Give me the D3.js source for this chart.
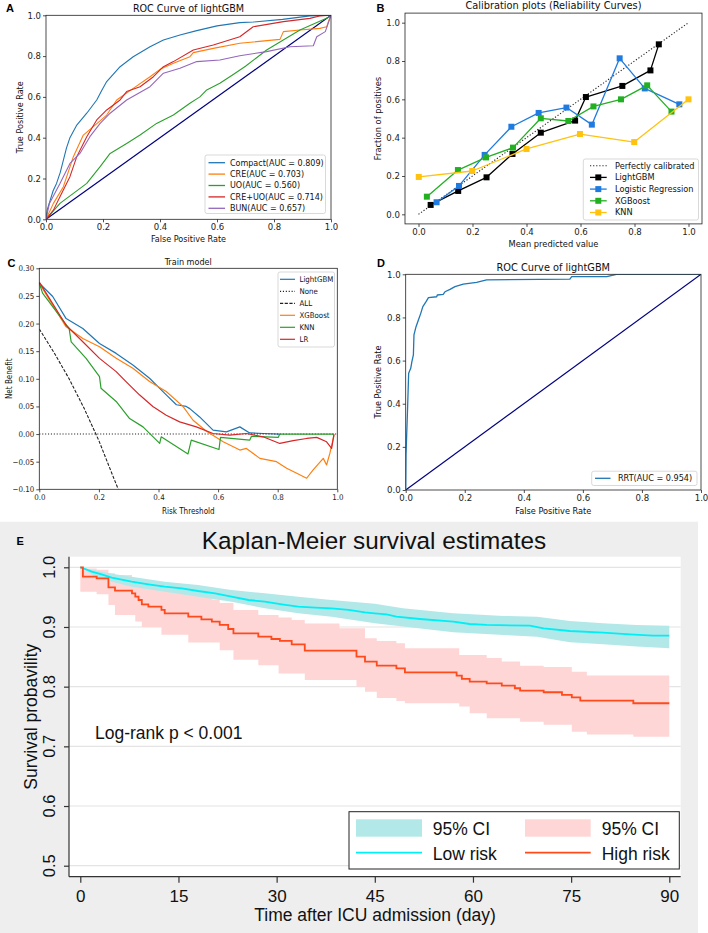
<!DOCTYPE html>
<html><head><meta charset="utf-8">
<script src="https://cdn.jsdelivr.net/npm/d3@7"></script>
<style>body{margin:0;background:#fff;} svg{display:block;}</style>
</head><body>
<svg id="fig" width="708" height="933"></svg>
<script>
// ---------- Panel A: ROC curves (fpr, tpr) ----------
const rocCompact = [[0,0],[0.005,0.05],[0.014,0.09],[0.025,0.14],[0.037,0.176],[0.05,0.23],[0.061,0.29],[0.072,0.35],[0.084,0.40],[0.108,0.462],[0.143,0.52],[0.178,0.585],[0.195,0.63],[0.213,0.675],[0.26,0.748],[0.306,0.797],[0.365,0.846],[0.412,0.879],[0.47,0.903],[0.529,0.925],[0.6,0.948],[0.68,0.964],[0.727,0.967],[0.83,0.98],[0.926,0.997],[1,1]];
const rocCre = [[0,0],[0.026,0.078],[0.061,0.16],[0.096,0.307],[0.131,0.413],[0.166,0.454],[0.213,0.511],[0.248,0.585],[0.306,0.642],[0.365,0.699],[0.40,0.735],[0.447,0.765],[0.505,0.797],[0.517,0.817],[0.587,0.838],[0.68,0.863],[0.821,0.882],[0.833,0.92],[0.891,0.928],[0.961,0.936],[0.985,0.944],[0.996,0.99],[1,1]];
const rocUo = [[0,0],[0.049,0.078],[0.096,0.127],[0.143,0.176],[0.19,0.258],[0.225,0.323],[0.283,0.372],[0.33,0.413],[0.388,0.47],[0.447,0.511],[0.505,0.569],[0.54,0.60],[0.564,0.634],[0.61,0.667],[0.657,0.71],[0.70,0.75],[0.774,0.83],[0.891,0.928],[0.996,0.993],[1,1]];
const rocCreUo = [[0,0],[0.026,0.045],[0.049,0.111],[0.084,0.209],[0.108,0.307],[0.143,0.405],[0.178,0.487],[0.213,0.536],[0.26,0.585],[0.283,0.626],[0.33,0.65],[0.377,0.699],[0.412,0.748],[0.447,0.773],[0.517,0.83],[0.587,0.854],[0.68,0.895],[0.727,0.944],[0.833,0.969],[0.926,0.985],[0.96,0.997],[1,1]];
const rocBun = [[0,0],[0.012,0.078],[0.049,0.176],[0.084,0.274],[0.119,0.323],[0.154,0.405],[0.19,0.47],[0.225,0.52],[0.283,0.585],[0.365,0.65],[0.412,0.716],[0.47,0.74],[0.529,0.773],[0.61,0.781],[0.68,0.802],[0.774,0.822],[0.856,0.846],[0.938,0.851],[0.95,0.895],[0.98,0.92],[1,1]];
const rocLabelsA = ["Compact(AUC = 0.809)","CRE(AUC = 0.703)","UO(AUC = 0.560)","CRE+UO(AUC = 0.714)","BUN(AUC = 0.657)"];
const unitTicks = [0,0.2,0.4,0.6,0.8,1.0];

// ---------- Panel B: calibration (mean predicted, fraction positives) ----------
const calLgbm = [[0.045,0.049],[0.147,0.122],[0.252,0.193],[0.348,0.315],[0.453,0.426],[0.58,0.489],[0.62,0.612],[0.755,0.67],[0.859,0.751],[0.89,0.887]];
const calLr = [[0.067,0.063],[0.15,0.148],[0.245,0.31],[0.344,0.457],[0.445,0.529],[0.548,0.557],[0.642,0.468],[0.745,0.814],[0.838,0.657],[0.966,0.574]];
const calXgb = [[0.031,0.092],[0.146,0.231],[0.25,0.297],[0.35,0.348],[0.453,0.501],[0.555,0.487],[0.648,0.563],[0.75,0.6],[0.847,0.673],[0.937,0.536]];
const calKnn = [[0.001,0.195],[0.199,0.226],[0.4,0.341],[0.598,0.419],[0.799,0.377],[1.0,0.6]];
const calPerfect = [[0,0],[1,1]];
const calLabels = ["Perfectly calibrated","LightGBM","Logistic Regression","XGBoost","KNN"];

// ---------- Panel C: decision curves (threshold, net benefit) ----------
const dcaLgbm = [[0,0.273],[0.045,0.249],[0.09,0.209],[0.146,0.191],[0.202,0.164],[0.258,0.146],[0.314,0.125],[0.37,0.101],[0.426,0.071],[0.46,0.053],[0.493,0.05],[0.505,0.046],[0.538,0.031],[0.583,0.007],[0.628,0.004],[0.673,0.013],[0.706,0.002],[0.751,0.001],[0.807,0]];
const dcaNone = [[0,0],[1,0]];
const dcaAll = [[0,0.19],[0.05,0.147],[0.1,0.10],[0.15,0.047],[0.2,-0.012],[0.25,-0.08],[0.265,-0.10]];
const dcaXgb = [[0,0.273],[0.09,0.194],[0.146,0.173],[0.202,0.158],[0.258,0.137],[0.314,0.119],[0.37,0.095],[0.426,0.077],[0.482,0.05],[0.516,0.025],[0.561,0.005],[0.617,-0.014],[0.673,-0.029],[0.695,-0.026],[0.74,-0.044],[0.796,-0.05],[0.83,-0.062],[0.864,-0.071],[0.897,-0.08],[0.919,-0.065],[0.953,-0.044],[0.964,-0.056],[0.975,-0.035],[0.989,-0.002]];
const dcaKnn = [[0,0.273],[0.011,0.255],[0.1,0.191],[0.107,0.167],[0.157,0.137],[0.202,0.104],[0.207,0.083],[0.258,0.059],[0.303,0.028],[0.348,0.013],[0.404,-0.017],[0.409,-0.005],[0.499,-0.036],[0.51,-0.011],[0.603,-0.028],[0.608,-0.006],[0.706,-0.011],[0.712,-0.004],[0.802,-0.006],[0.807,0],[0.989,0]];
const dcaLr = [[0,0.275],[0.09,0.197],[0.146,0.167],[0.202,0.137],[0.258,0.113],[0.291,0.095],[0.336,0.071],[0.381,0.05],[0.426,0.034],[0.471,0.022],[0.527,0.013],[0.583,0.001],[0.639,-0.002],[0.695,0.001],[0.751,-0.005],[0.807,-0.017],[0.852,-0.012],[0.897,-0.008],[0.931,-0.006],[0.964,-0.014],[0.981,-0.026],[0.989,0]];
const dcaLabels = ["LightGBM","None","ALL","XGBoost","KNN","LR"];
const dcaYTicks = [-0.10,-0.05,0,0.05,0.10,0.15,0.20,0.25,0.30];

// ---------- Panel D: ROC RRT ----------
const rocRrt = [[0,0],[0.001,0.162],[0.006,0.363],[0.01,0.541],[0.017,0.564],[0.021,0.595],[0.026,0.626],[0.028,0.719],[0.035,0.757],[0.043,0.788],[0.051,0.819],[0.058,0.85],[0.069,0.873],[0.077,0.892],[0.105,0.896],[0.107,0.904],[0.127,0.907],[0.133,0.919],[0.15,0.93],[0.167,0.943],[0.195,0.954],[0.24,0.963],[0.274,0.974],[0.556,0.978],[0.562,0.989],[0.681,0.989],[0.714,1.0],[1,1]];
const rocRrtLabel = "RRT(AUC = 0.954)";

// ---------- Panel E: Kaplan-Meier ----------
const kmHighT = [0,0.4,2.5,4.3,5.3,7.9,8.4,8.9,9.4,10.4,12.4,12.9,16.5,18.5,20.1,21.3,22.6,23.4,27.2,29.2,30.5,32.3,34.3,42.2,43.5,45.3,48.3,49.6,57.5,58.3,59.5,62.1,64.4,66.4,67.2,70.8,73.6,75.1,76.4,84.5,90];
const kmHighS = [1,0.9843,0.9815,0.9664,0.9609,0.9564,0.9508,0.9452,0.938,0.934,0.9285,0.9229,0.9173,0.9128,0.9089,0.9034,0.8966,0.8894,0.8838,0.8799,0.8766,0.871,0.8604,0.8503,0.8419,0.8352,0.8308,0.8241,0.8185,0.8129,0.8084,0.8056,0.8017,0.7973,0.7933,0.7906,0.7861,0.7822,0.7766,0.7722,0.7722];
const kmHighCiT = [0,0.4,2.5,4.3,5.3,7.9,8.4,8.9,9.4,12.4,12.9,16.5,18.5,20.1,21.3,23.4,27.2,30.3,32.3,34.3,39.6,42.2,43.5,45.3,48.3,49.6,57.9,59.5,62.1,64.4,67.2,70.8,75.1,77.4,84.5,90];
const kmHighCiHi = [1,0.998,0.996,0.99,0.987,0.982,0.98,0.978,0.975,0.97,0.967,0.958,0.952,0.946,0.94,0.9285,0.92,0.916,0.9117,0.906,0.8978,0.8978,0.881,0.8766,0.8727,0.8643,0.853,0.853,0.848,0.842,0.8352,0.833,0.8251,0.8185,0.8185,0.8185];
const kmHighCiLo = [0.959,0.959,0.955,0.937,0.92,0.92,0.909,0.909,0.90,0.887,0.887,0.874,0.874,0.874,0.861,0.845,0.836,0.822,0.822,0.811,0.811,0.80,0.7916,0.781,0.776,0.772,0.7666,0.7555,0.747,0.747,0.7414,0.736,0.7246,0.72,0.716,0.716];
const kmLowT = [0,0.72,1.74,3.26,4.79,7.85,10.4,12.9,15.5,18.0,20.6,23.1,25.7,28.2,30.8,33.3,35.9,38.4,41.0,43.5,45.0,46.8,48.3,51.9,57.0,59.5,62.1,68.7,70.8,74.8,79.9,84.0,87.5,90];
const kmLowS = [1,0.9972,0.9927,0.9882,0.9826,0.9759,0.9715,0.9676,0.9648,0.9603,0.9564,0.9508,0.9452,0.9424,0.938,0.934,0.9324,0.9313,0.9285,0.9246,0.9229,0.9212,0.9173,0.9134,0.9089,0.905,0.9034,0.9022,0.8978,0.8933,0.8905,0.8877,0.8855,0.8855];
const kmLowCiT = [0,2.7,5.3,7.85,12.9,18,23.1,28.2,33.3,38.4,45,49.3,57,64.7,69.8,74.8,79.9,85,90];
const kmLowCiHi = [1,0.9938,0.9882,0.9843,0.9759,0.9704,0.962,0.9564,0.9508,0.9452,0.939,0.9313,0.9229,0.9184,0.9173,0.91,0.9062,0.9034,0.9022];
const kmLowCiLo = [1,0.9815,0.9746,0.9676,0.9592,0.9508,0.9424,0.9313,0.9229,0.9173,0.9062,0.9006,0.8911,0.8866,0.8838,0.8743,0.871,0.8671,0.8643];
const kmXTicks = [0,15,30,45,60,75,90];
const kmYTicks = [0.5,0.6,0.7,0.8,0.9,1.0];

// ---------- drawing ----------
const svg = d3.select("#fig");
const FM = "'DejaVu Sans', sans-serif";
const FC = "'DejaVu Sans Condensed', 'DejaVu Sans', sans-serif";
const FE = "'Liberation Sans', Arial, sans-serif";
let clipN = 0;

function panel(cfg) {
  const g = svg.append("g");
  const x = d3.scaleLinear().domain(cfg.xDom).range([cfg.l, cfg.r]);
  const y = d3.scaleLinear().domain(cfg.yDom).range([cfg.b, cfg.t]);
  const xa = g.append("g").attr("transform", `translate(0,${cfg.b})`)
    .call(d3.axisBottom(x).tickValues(cfg.xTicks).tickFormat(cfg.fmtX).tickSize(3).tickPadding(2));
  const ya = g.append("g").attr("transform", `translate(${cfg.l},0)`)
    .call(d3.axisLeft(y).tickValues(cfg.yTicks).tickFormat(cfg.fmtY).tickSize(3).tickPadding(2));
  [xa, ya].forEach(a => {
    a.select(".domain").remove();
    a.selectAll("line").attr("stroke", "#222").attr("stroke-width", 0.8);
    a.selectAll("text").attr("font-family", cfg.font).attr("font-size", cfg.fs).attr("fill", "#222")
      .attr("font-stretch", cfg.stretch || "normal");
  });
  const id = "clip" + (clipN++);
  svg.append("clipPath").attr("id", id).append("rect")
    .attr("x", cfg.l).attr("y", cfg.t).attr("width", cfg.r - cfg.l).attr("height", cfg.b - cfg.t);
  const plot = g.append("g").attr("clip-path", `url(#${id})`);
  return {g, x, y, plot, frame: () => g.append("rect").attr("x", cfg.l).attr("y", cfg.t)
      .attr("width", cfg.r - cfg.l).attr("height", cfg.b - cfg.t)
      .attr("fill", "none").attr("stroke", "#222").attr("stroke-width", 0.8)};
}
function txt(x, y, s, o = {}) {
  const t = svg.append("text").attr("x", x).attr("y", y).text(s)
    .attr("font-family", o.font || FM).attr("font-size", o.size || 8)
    .attr("text-anchor", o.anchor || "start").attr("fill", o.fill || "#111");
  if (o.bold) t.attr("font-weight", "bold");
  if (o.stretch) t.attr("font-stretch", o.stretch);
  if (o.rot) t.attr("transform", `rotate(${o.rot},${x},${y})`);
  return t;
}
function drawLine(P, data, color, w, dash) {
  const ln = d3.line().x(d => P.x(d[0])).y(d => P.y(d[1]));
  const p = P.plot.append("path").datum(data).attr("d", ln).attr("fill", "none")
    .attr("stroke", color).attr("stroke-width", w).attr("stroke-linejoin", "round");
  if (dash) p.attr("stroke-dasharray", dash);
  return p;
}
function legendBox(x0, y0, x1, y1) {
  svg.append("rect").attr("x", x0).attr("y", y0).attr("width", x1 - x0).attr("height", y1 - y0)
    .attr("rx", 2).attr("fill", "#fff").attr("fill-opacity", 0.85).attr("stroke", "#cfcfcf").attr("stroke-width", 0.8);
}
const f1 = d3.format(".1f"), f2 = d3.format(".2f");

// ===== A =====
const A = panel({l:46, r:331, t:15.3, b:219.3, xDom:[0,1], yDom:[0,1], xTicks:unitTicks, yTicks:unitTicks, fmtX:f1, fmtY:f1, font:FM, fs:8.5});
drawLine(A, [[0,0],[1,1]], "#000080", 1.2);
const colA = ["#1f77b4","#ff7f0e","#2ca02c","#d62728","#9467bd"];
[rocCompact, rocCre, rocUo, rocCreUo, rocBun].forEach((d, i) => drawLine(A, d, colA[i], 1.1));
A.frame();
txt(188.5, 11.5, "ROC Curve of lightGBM", {size:9.6, anchor:"middle"});
txt(6, 12, "A", {size:11, bold:true, font:"'Liberation Sans', Arial, sans-serif", fill:"#000"});
txt(188.5, 242.3, "False Positive Rate", {size:8.1, anchor:"middle"});
txt(23, 117.3, "True Positive Rate", {size:8.1, anchor:"middle", rot:-90});
legendBox(205, 155, 325.5, 213.5);
rocLabelsA.forEach((s, i) => {
  const yy = 162.7 + i * 11.4;
  svg.append("line").attr("x1", 208.5).attr("x2", 225).attr("y1", yy).attr("y2", yy).attr("stroke", colA[i]).attr("stroke-width", 1.3);
  txt(230, yy + 2.9, s, {size:8});
});

// ===== B =====
const B = panel({l:405, r:702, t:13.1, b:223.9, xDom:[-0.05,1.05], yDom:[-0.05,1.05], xTicks:unitTicks, yTicks:unitTicks, fmtX:f1, fmtY:f1, font:FM, fs:8.6});
drawLine(B, calPerfect, "#222", 1.1, "1.2,1.9");
const colB = ["#000000","#1f7be0","#22b022","#ffc20e"];
[calLgbm, calLr, calXgb, calKnn].forEach((d, i) => {
  drawLine(B, d, colB[i], 1.3);
  B.plot.selectAll(null).data(d).enter().append("rect")
    .attr("x", p => B.x(p[0]) - 3).attr("y", p => B.y(p[1]) - 3).attr("width", 6).attr("height", 6)
    .attr("fill", colB[i]);
});
B.frame();
txt(553.5, 9.3, "Calibration plots  (Reliability Curves)", {size:9.8, anchor:"middle"});
txt(376.5, 11.8, "B", {size:11, bold:true, font:"'Liberation Sans', Arial, sans-serif", fill:"#000"});
txt(553.5, 247.2, "Mean predicted value", {size:8.3, anchor:"middle"});
txt(381, 118.5, "Fraction of positives", {size:8.3, anchor:"middle", rot:-90});
legendBox(583.3, 159, 698.5, 220);
calLabels.forEach((s, i) => {
  const yy = 165.7 + i * 11.7;
  if (i === 0) {
    svg.append("line").attr("x1", 590).attr("x2", 606.7).attr("y1", yy).attr("y2", yy).attr("stroke", "#222").attr("stroke-width", 1.1).attr("stroke-dasharray", "1.2,1.9");
  } else {
    svg.append("line").attr("x1", 590).attr("x2", 606.7).attr("y1", yy).attr("y2", yy).attr("stroke", colB[i-1]).attr("stroke-width", 1.3);
    svg.append("rect").attr("x", 598.3 - 3).attr("y", yy - 3).attr("width", 6).attr("height", 6).attr("fill", colB[i-1]);
  }
  txt(615, yy + 2.9, s, {size:8.2});
});

// ===== C =====
const C = panel({l:39.3, r:337.3, t:268.3, b:489.3, xDom:[0,1], yDom:[-0.10,0.30], xTicks:unitTicks, yTicks:dcaYTicks, fmtX:f1, fmtY:f2, font:FC, fs:7.9, stretch:"condensed"});
const colC = ["#1f77b4","#222","#222","#ff7f0e","#2ca02c","#d62728"];
const dashC = [null,"1.1,1.8","3.2,1.5",null,null,null];
[dcaLgbm, dcaNone, dcaAll, dcaXgb, dcaKnn, dcaLr].forEach((d, i) => drawLine(C, d, colC[i], i === 1 || i === 2 ? 1.1 : 1.2, dashC[i]));
C.frame();
txt(188.3, 264.5, "Train model", {size:9, anchor:"middle", font:FC, stretch:"condensed"});
txt(7.5, 266.5, "C", {size:11, bold:true, font:"'Liberation Sans', Arial, sans-serif", fill:"#000"});
txt(188.3, 513.5, "Risk Threshold", {size:8, anchor:"middle", font:FC, stretch:"condensed"});
txt(12.5, 378.7, "Net Benefit", {size:8, anchor:"middle", rot:-90, font:FC, stretch:"condensed"});
legendBox(278, 272, 334.5, 347);
dcaLabels.forEach((s, i) => {
  const yy = 279.3 + i * 12;
  const l = svg.append("line").attr("x1", 280).attr("x2", 295).attr("y1", yy).attr("y2", yy).attr("stroke", colC[i]).attr("stroke-width", 1.2);
  if (dashC[i]) l.attr("stroke-dasharray", dashC[i]);
  txt(299.5, yy + 2.8, s, {size:7.8, font:FC, stretch:"condensed"});
});

// ===== D =====
const D = panel({l:405.7, r:701, t:274.3, b:490, xDom:[0,1], yDom:[0,1], xTicks:unitTicks, yTicks:unitTicks, fmtX:f1, fmtY:f1, font:FM, fs:8.6});
drawLine(D, [[0,0],[1,1]], "#000080", 1.2);
drawLine(D, rocRrt, "#1f77b4", 1.3);
D.frame();
txt(553.3, 270.5, "ROC Curve of lightGBM", {size:9.8, anchor:"middle"});
txt(377, 266.5, "D", {size:11, bold:true, font:"'Liberation Sans', Arial, sans-serif", fill:"#000"});
txt(553.3, 514, "False Positive Rate", {size:8.2, anchor:"middle"});
txt(381, 382, "True Positive Rate", {size:8.2, anchor:"middle", rot:-90});
legendBox(591.7, 471.2, 697, 485.5);
svg.append("line").attr("x1", 595).attr("x2", 610.5).attr("y1", 478.3).attr("y2", 478.3).attr("stroke", "#1f77b4").attr("stroke-width", 1.3);
txt(618, 481.2, rocRrtLabel, {size:8.1});

// ===== E =====
const E = {l:69, r:680.7, t:556.7, b:876.7};
svg.append("rect").attr("x", 0).attr("y", 521.7).attr("width", 698).attr("height", 933 - 521.7).attr("fill", "#eeeeee");
svg.append("rect").attr("x", E.l).attr("y", E.t).attr("width", E.r - E.l).attr("height", E.b - E.t).attr("fill", "#fff");
const ex = d3.scaleLinear().domain([0,90]).range([80.3, 669.3]);
const ey = d3.scaleLinear().domain([0.5,1.0]).range([865.7, 567.3]);
svg.selectAll(null).data(kmYTicks).enter().append("line")
  .attr("x1", E.l).attr("x2", E.r).attr("y1", d => ey(d)).attr("y2", d => ey(d))
  .attr("stroke", "#e4e4e4").attr("stroke-width", 1.2);
const hiCi = kmHighCiT.map((t, i) => [t, kmHighCiLo[i], kmHighCiHi[i]]);
const loCi = kmLowCiT.map((t, i) => [t, kmLowCiLo[i], kmLowCiHi[i]]);
svg.append("path").datum(hiCi).attr("fill", "#ffd6d6")
  .attr("d", d3.area().curve(d3.curveStepAfter).x(d => ex(d[0])).y0(d => ey(d[1])).y1(d => ey(d[2])));
svg.append("path").datum(loCi).attr("fill", "#b3e8e9")
  .attr("d", d3.area().x(d => ex(d[0])).y0(d => ey(d[1])).y1(d => ey(d[2])));
svg.append("path").datum(kmLowT.map((t, i) => [t, kmLowS[i]])).attr("fill", "none")
  .attr("stroke", "#00eef5").attr("stroke-width", 1.8)
  .attr("d", d3.line().x(d => ex(d[0])).y(d => ey(d[1])));
svg.append("path").datum(kmHighT.map((t, i) => [t, kmHighS[i]])).attr("fill", "none")
  .attr("stroke", "#ff4a1c").attr("stroke-width", 1.8)
  .attr("d", d3.line().curve(d3.curveStepAfter).x(d => ex(d[0])).y(d => ey(d[1])));
// axes
const exAx = svg.append("g").attr("transform", `translate(0,${E.b})`)
  .call(d3.axisBottom(ex).tickValues(kmXTicks).tickSize(6).tickPadding(7));
exAx.select(".domain").remove();
svg.append("line").attr("x1", E.l).attr("x2", E.r).attr("y1", E.b).attr("y2", E.b).attr("stroke", "#333").attr("stroke-width", 1.2);
exAx.selectAll("line").attr("stroke", "#333").attr("stroke-width", 1.2);
exAx.selectAll("text").attr("font-family", FE).attr("font-size", 17).attr("fill", "#111");
const eyAx = svg.append("g").attr("transform", `translate(${E.l},0)`)
  .call(d3.axisLeft(ey).tickValues(kmYTicks).tickFormat(f1).tickSize(5).tickPadding(0));
eyAx.select(".domain").remove();
eyAx.selectAll("line").attr("stroke", "#333").attr("stroke-width", 1.2);
eyAx.selectAll("text").remove();
kmYTicks.forEach(v => txt(55.5, ey(v), f1(v), {font:FE, size:16.5, anchor:"middle", rot:-90}));
svg.append("line").attr("x1", E.l).attr("x2", E.l).attr("y1", E.t).attr("y2", E.b).attr("stroke", "#333").attr("stroke-width", 1.2);
txt(374, 548.5, "Kaplan-Meier survival estimates", {font:FE, size:24.3, anchor:"middle"});
txt(16.5, 545, "E", {size:11, bold:true, font:FE, fill:"#000"});
txt(375, 921, "Time after ICU admission (day)", {font:FE, size:17.5, anchor:"middle"});
txt(37.5, 716.7, "Survival probavility", {font:FE, size:17.5, anchor:"middle", rot:-90});
txt(95, 738.5, "Log-rank p < 0.001", {font:FE, size:17.5});
// legend E
svg.append("rect").attr("x", 349).attr("y", 811.7).attr("width", 330.3).attr("height", 57.3).attr("fill", "#fff").attr("stroke", "#222").attr("stroke-width", 1);
svg.append("rect").attr("x", 356).attr("y", 819.3).attr("width", 66).attr("height", 17.4).attr("fill", "#b3e8e9");
svg.append("rect").attr("x", 525).attr("y", 819.3).attr("width", 65.7).attr("height", 17.4).attr("fill", "#ffd6d6");
svg.append("line").attr("x1", 356).attr("x2", 422).attr("y1", 852.7).attr("y2", 852.7).attr("stroke", "#00eef5").attr("stroke-width", 1.8);
svg.append("line").attr("x1", 525).attr("x2", 590.7).attr("y1", 852.7).attr("y2", 852.7).attr("stroke", "#ff4a1c").attr("stroke-width", 1.8);
txt(432.7, 834.5, "95% CI", {font:FE, size:17.5});
txt(601.7, 834.5, "95% CI", {font:FE, size:17.5});
txt(432.7, 859.5, "Low risk", {font:FE, size:17.5});
txt(601.7, 859.5, "High risk", {font:FE, size:17.5});
</script>
</body></html>
